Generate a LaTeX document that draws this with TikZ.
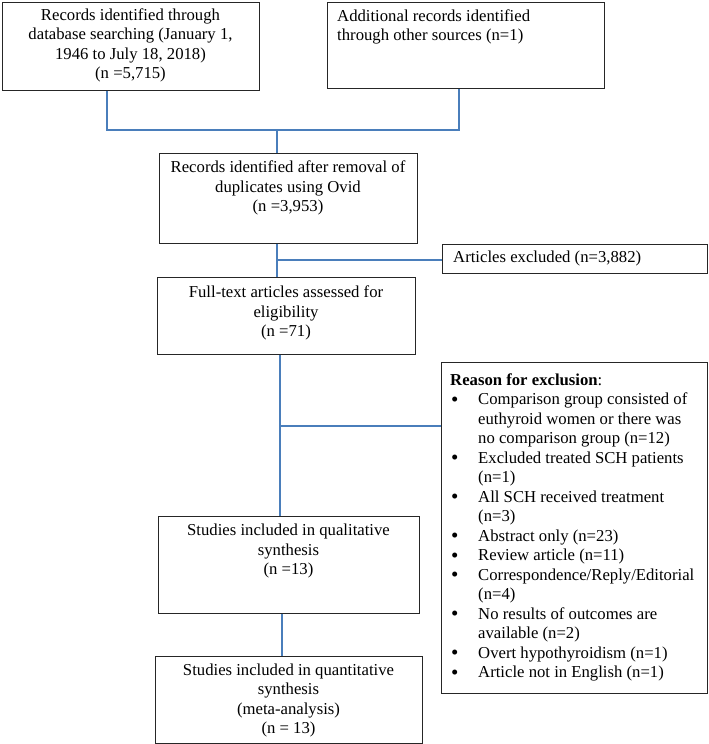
\documentclass[tikz,border=0pt]{standalone}
\usepackage{fontspec}
\setmainfont{Liberation Serif}
\definecolor{linkblue}{HTML}{4A7EBB}
\newcommand{\bitem}[1]{\makebox[28pt][l]{\hspace{1pt}\raisebox{-1.2pt}{\fontsize{21}{19.5}\selectfont\textbullet}}#1}
\newcommand{\bcont}[1]{\hspace*{28pt}#1}
\begin{document}
\begin{tikzpicture}[x=1pt,y=-1pt]
\tikzset{
  box/.style={draw=black!85, line width=1pt, rectangle, inner sep=0pt},
  txt/.style={inner sep=0pt, font=\fontsize{16.7}{19.5}\selectfont},
  conn/.style={draw=linkblue, line width=1.1pt},
}
\useasboundingbox (0,0) rectangle (709,744);
% boxes
\node[box, minimum width=257, minimum height=88] (b1) at (130.5,46) {};
\node[box, minimum width=277, minimum height=86] (b2) at (465.5,45) {};
\node[box, minimum width=258, minimum height=90] (b3) at (288,198) {};
\node[box, minimum width=265, minimum height=29] (excl) at (574.5,258.5) {};
\node[box, minimum width=258, minimum height=77] (b4) at (286,315.5) {};
\node[box, minimum width=266, minimum height=331] (reason) at (574,527.5) {};
\node[box, minimum width=261, minimum height=97] (b5) at (288.5,564.5) {};
\node[box, minimum width=267, minimum height=87] (b6) at (288.5,699.5) {};
% texts
\node[txt, align=center] (t1) at (130.5,45.5) {Records identified through\\database searching (January 1,\\1946 to July 18, 2018)\\(n =5,715)};
\node[txt, align=left, anchor=west] (t2) at (337,27) {Additional records identified\\through other sources (n=1)};
\node[txt, align=center] (t3) at (288,188) {Records identified after removal of\\duplicates using Ovid\\(n =3,953)};
\node[txt, anchor=west] (texcl) at (453,258.5) {Articles excluded (n=3,882)};
\node[txt, align=center] (t4) at (286,313) {Full-text articles assessed for\\eligibility\\(n =71)};
\node[txt, align=left, anchor=west] (treason) at (450,527.5) {\textbf{Reason for exclusion}:\\
\bitem{Comparison group consisted of}\\
\bcont{euthyroid women or there was}\\
\bcont{no comparison group (n=12)}\\
\bitem{Excluded treated SCH patients}\\
\bcont{(n=1)}\\
\bitem{All SCH received treatment}\\
\bcont{(n=3)}\\
\bitem{Abstract only (n=23)}\\
\bitem{Review article (n=11)}\\
\bitem{Correspondence/Reply/Editorial}\\
\bcont{(n=4)}\\
\bitem{No results of outcomes are}\\
\bcont{available (n=2)}\\
\bitem{Overt hypothyroidism (n=1)}\\
\bitem{Article not in English (n=1)}};
\node[txt, align=center] (t5) at (288.5,551) {Studies included in qualitative\\synthesis\\(n =13)};
\node[txt, align=center] (t6) at (288.5,700.5) {Studies included in quantitative\\synthesis\\(meta-analysis)\\(n = 13)};
% junctions
\coordinate (j1) at (277,130);
\coordinate (j2) at (277,260);
\coordinate (j3) at (280,426);
% connectors
\draw[conn] ([xshift=-23.5]b1.south) |- (j1) -| ([xshift=-6.5]b2.south);
\draw[conn] (j1) -- (j1 |- b3.north);
\draw[conn] (j1 |- b3.south) -- (j1 |- b4.north);
\draw[conn] (j2) -- (j2 -| excl.west);
\draw[conn] (j3 |- b4.south) -- (j3 |- b5.north);
\draw[conn] (j3) -- (j3 -| reason.west);
\draw[conn] ([xshift=-6.5]b5.south) -- ([xshift=-6.5]b5.south |- b6.north);
\end{tikzpicture}
\end{document}
